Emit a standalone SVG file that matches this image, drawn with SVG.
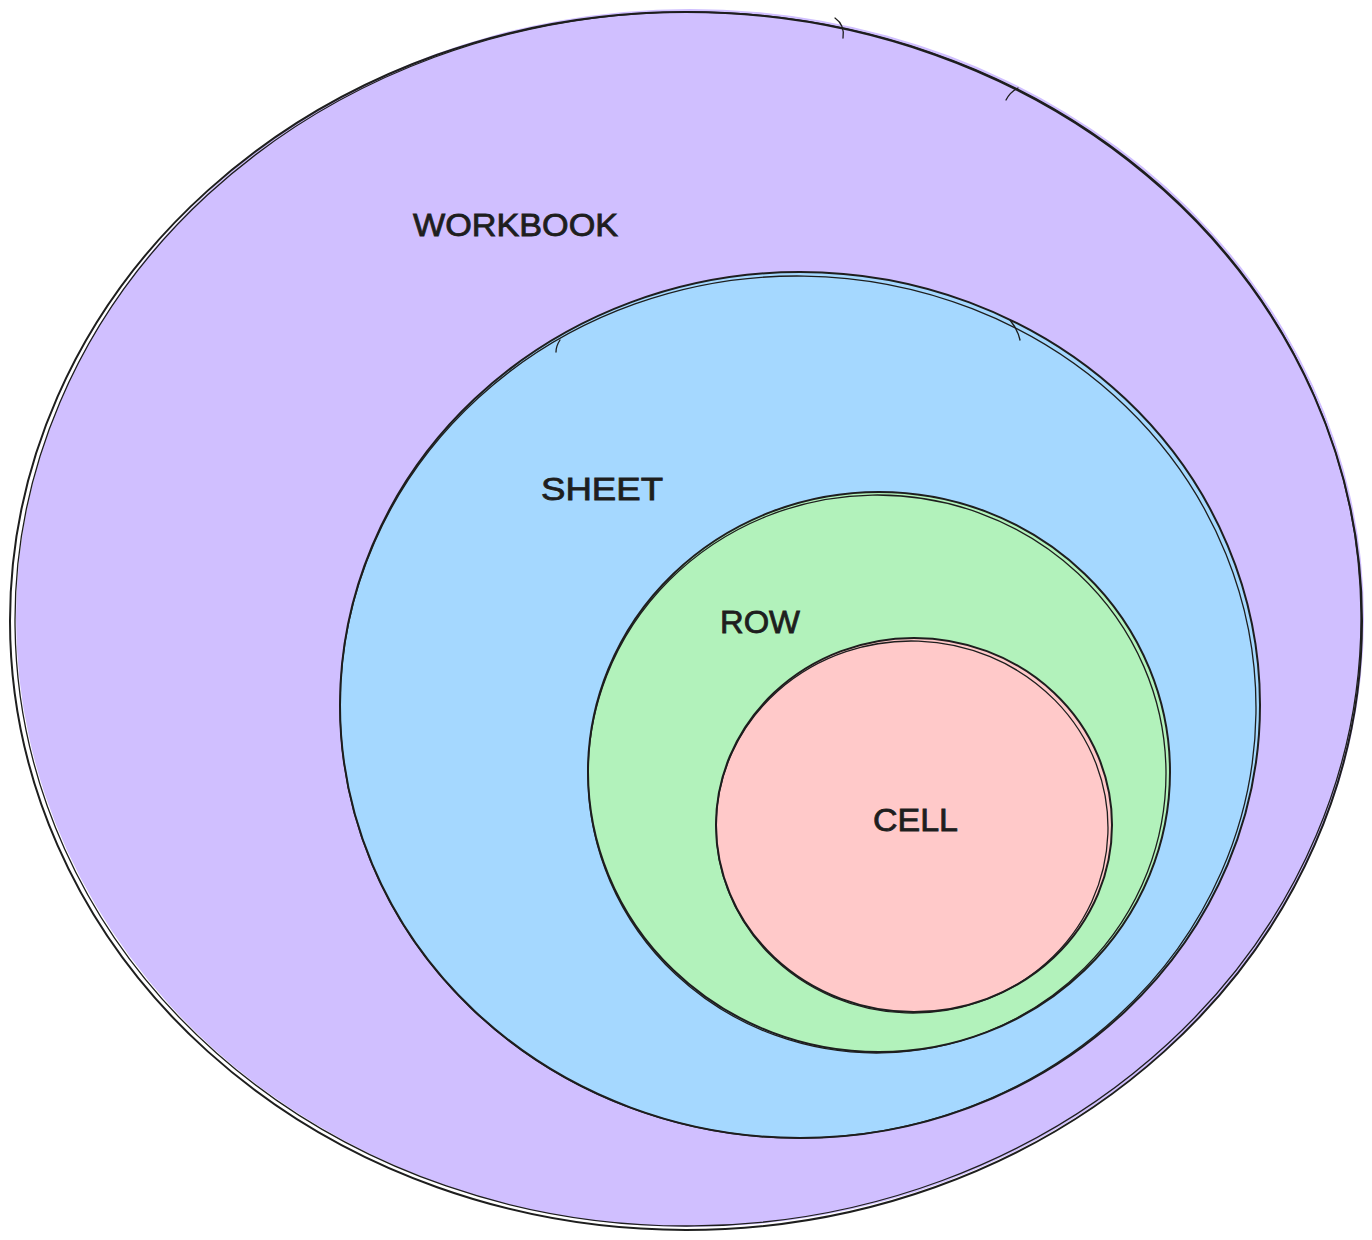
<svg xmlns="http://www.w3.org/2000/svg" width="1372" height="1240" viewBox="0 0 1372 1240">
<style>
.s{fill:none;stroke:#1e1e1e;stroke-width:2;stroke-linecap:round}
.s2{fill:none;stroke:#1e1e1e;stroke-width:1.3;stroke-linecap:round}
.t{font-family:"Liberation Sans",sans-serif;font-size:31px;fill:#1e1e1e;stroke:#1e1e1e;stroke-width:0.8}
</style>
<rect width="1372" height="1240" fill="#ffffff"/>
<g id="workbook">
<ellipse cx="690" cy="618" rx="674" ry="609" fill="#d0bfff"/>
<ellipse class="s" cx="686" cy="621" rx="676" ry="609"/>
<ellipse class="s2" cx="688" cy="619" rx="673" ry="607" transform="rotate(-0.6 688 619)"/>
<path class="s2" d="M835 18 Q845 25 843 38"/>
<path class="s2" d="M1018 88 Q1010 92 1006 100"/>
<text class="t" x="413" y="236" textLength="205" lengthAdjust="spacingAndGlyphs">WORKBOOK</text>
</g>
<g id="sheet">
<ellipse cx="800" cy="705" rx="460" ry="433" fill="#a5d8ff"/>
<ellipse class="s" cx="800" cy="705" rx="460" ry="433"/>
<ellipse class="s2" cx="798" cy="707" rx="458" ry="431" transform="rotate(0.8 798 707)"/>
<path class="s2" d="M1010 320 Q1018 330 1020 340"/>
<path class="s2" d="M560 340 Q556 346 556 352"/>
<text class="t" x="541" y="500" textLength="122" lengthAdjust="spacingAndGlyphs">SHEET</text>
</g>
<g id="row">
<ellipse cx="879" cy="772" rx="291" ry="280" fill="#b2f2bb"/>
<ellipse class="s" cx="879" cy="772" rx="291" ry="280"/>
<ellipse class="s2" cx="877" cy="774" rx="289" ry="279" transform="rotate(-1 877 774)"/>
<text class="t" x="720" y="633" textLength="80" lengthAdjust="spacingAndGlyphs">ROW</text>
</g>
<g id="cell">
<ellipse cx="914" cy="825" rx="198" ry="187" fill="#ffc9c9"/>
<ellipse class="s" cx="914" cy="825" rx="198" ry="187"/>
<ellipse class="s2" cx="912" cy="827" rx="196" ry="186" transform="rotate(2 912 827)"/>
<text class="t" x="873" y="831" textLength="85" lengthAdjust="spacingAndGlyphs">CELL</text>
</g>
<g id="connectors"></g>
</svg>
